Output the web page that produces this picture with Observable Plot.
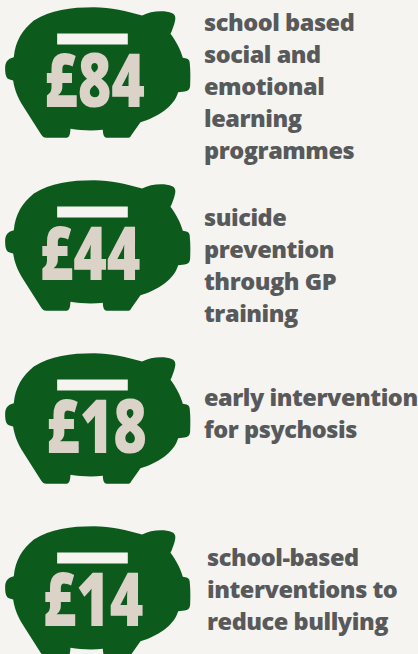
<!DOCTYPE html>
<html><head><meta charset="utf-8">
<script src="https://cdn.jsdelivr.net/npm/d3@7"></script>
<script src="https://cdn.jsdelivr.net/npm/@observablehq/plot@0.6"></script>
<style>html,body{margin:0;padding:0;background:#f5f4f0;overflow:hidden}svg{display:block}</style>
</head><body><div id="chart"></div>
<script>
const categories = ["social", "suicide", "psychosis", "bullying"];
const amounts = ["£84", "£44", "£18", "£14"];
const labels = [
  "school based\nsocial and\nemotional\nlearning\nprogrammes",
  "suicide\nprevention\nthrough GP\ntraining",
  "early intervention\nfor psychosis",
  "school-based\ninterventions to\nreduce bullying"
];
const rows = categories.map((c, i) => ({c, amount: amounts[i], label: labels[i]}));

// Pig pictogram: a custom symbol for the dot mark, with a slot cut out of it
const pig = {draw(ctx) {
  const X = x => (x - 292) / 3, Y = y => (y - 216) / 3;
  const C = (a, b, c, d, e, f) => ctx.bezierCurveTo(X(a), Y(b), X(c), Y(d), X(e), Y(f));
  const L = (a, b) => ctx.lineTo(X(a), Y(b));
  ctx.moveTo(X(280), Y(20));
  C(330,20,380,32,425,45); C(450,32,490,28,515,38); C(525,42,527,52,522,68); C(518,80,515,90,510,100);
  C(525,120,540,145,547,172); L(558,174); C(566,176,568,182,568,190); C(570,210,570,230,569,255);
  C(568,268,562,272,552,273); L(533,275); C(520,320,470,350,420,365); L(392,405);
  C(390,410,388,412,380,412); L(322,412); C(312,412,308,408,307,388); C(275,392,240,390,210,385);
  C(209,405,206,412,196,412); L(138,412); C(130,412,126,408,122,402); L(70,320);
  C(50,290,42,265,38,240); L(30,238); C(18,236,14,225,14,205); C(14,185,20,175,40,170);
  C(45,120,65,90,100,60); C(150,28,210,20,280,20); ctx.closePath();
  // slot, wound the other way so it stays open
  ctx.moveTo(X(170), Y(99)); L(170,132); L(382,132); L(382,99); ctx.closePath();
}};

const textDy = [12, 18, -7, -4];
const textX = [203.5, 203.5, 203.5, 206.5];
const amountX = [94, 89.5, 96, 92.5];
const plot = Plot.plot({
  width: 418, height: 654, margin: 0,
  style: {background: "#f5f4f0"},
  x: {domain: [0, 418], range: [0, 418], axis: null},
  y: {domain: categories, range: [72, 591], type: "point", padding: 0, axis: null},
  marks: [
    Plot.dot(rows, {x: () => 97.3, y: "c", symbol: () => pig, r: 3, fill: "#0c5a1c", stroke: "none"}),
    Plot.text(rows, {x: (d, i) => amountX[i], y: "c", text: "amount", dy: 10.5, fill: "#dbd3c8",
      fontFamily: "Open Sans", fontWeight: 800, fontSize: 74, className: "amount"}),
    ...rows.map((r, i) => Plot.text([r], {x: () => textX[i], y: "c", text: "label", dy: textDy[i], textAnchor: "start",
      fill: "#58595b", fontFamily: "Open Sans", fontWeight: 800, fontSize: 23.5, lineHeight: 1.36, className: "label"}))
  ]
});
d3.select(plot).selectAll(".amount text").attr("textLength", 101).attr("lengthAdjust", "spacingAndGlyphs");
d3.select(plot).selectAll(".label").style("letter-spacing", "-0.45px");
document.getElementById("chart").append(plot);
</script></body></html>
